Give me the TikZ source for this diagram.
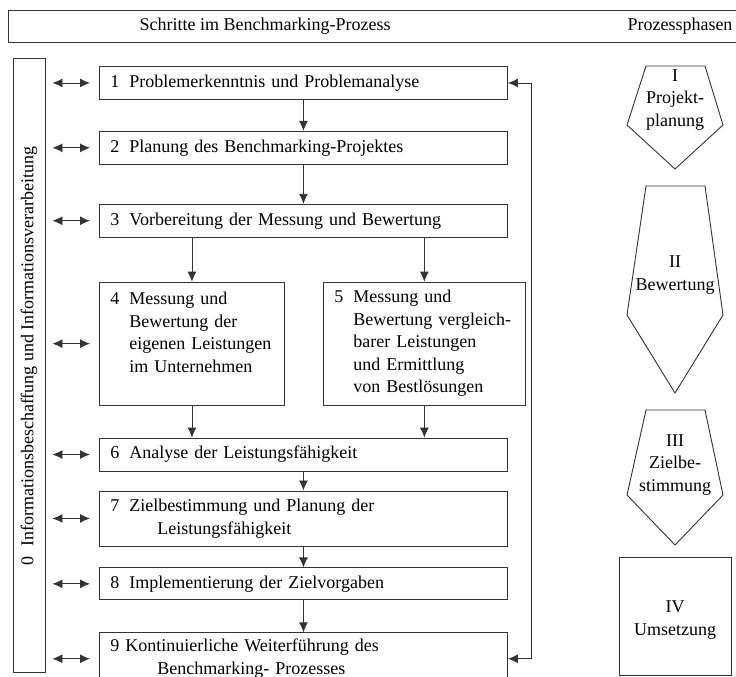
\documentclass[tikz,border=0pt]{standalone}
\usepackage{fontspec}
\setmainfont{Liberation Serif}
\usetikzlibrary{arrows.meta,positioning}
\newcommand{\stepfont}{\fontsize{18}{22.5}\selectfont}
\newcommand{\nr}[1]{#1\hspace{10pt}}

\begin{document}
\begin{tikzpicture}[x=1pt,y=-1pt,>={Latex[length=10pt,width=9pt]},
  stepbox/.style={draw=black!80,line width=0.9pt,minimum height=33pt,text width=386pt,
                  inner xsep=11pt,inner ysep=0pt,align=left,font=\stepfont},
  halfbox/.style={stepbox,minimum height=123pt},
  flow/.style={->,draw=black!80,line width=0.9pt},
  dbl/.style={<->,draw=black!80,line width=0.9pt,shorten <=7pt,shorten >=9pt},
  phase/.style={draw=black!80,line width=0.9pt},
  phasetext/.style={font=\stepfont,align=center}]
  \useasboundingbox (0,0) rectangle (736,677);
  % header
  \draw[phase] (8,10) rectangle (745,42);
  \node[font=\stepfont] (steps) at (265,26) {Schritte im Benchmarking-Prozess};
  \node[font=\stepfont] (phases) at (680,26) {Prozessphasen};
  % information column
  \node[draw=black!80,line width=0.9pt,minimum width=32pt,minimum height=614pt] (info) at (29,365) {};
  \node[rotate=90,font=\stepfont] (infotext) at (29,356)
    {\nr{0}Informationsbeschaffung und Informationsverarbeitung};
  % steps
  \node[stepbox,anchor=north west] (s1) at (99,66) {\nr{1}Problemerkenntnis und Problemanalyse};
  \node[stepbox,below=31pt of s1] (s2) {\nr{2}Planung des Benchmarking-Projektes};
  \node[stepbox,below=39pt of s2] (s3) {\nr{3}Vorbereitung der Messung und Bewertung};
  \node[halfbox,text width=163pt,below=44pt of s3.south west,anchor=north west] (s4)
    {\nr{4}Messung und\\\hspace{19pt}Bewertung der\\\hspace{19pt}eigenen Leistungen\\\hspace{19pt}im Unternehmen\\\mbox{}};
  \node[halfbox,text width=180pt,right=38pt of s4] (s5)
    {\nr{5}Messung und\\\hspace{19pt}Bewertung vergleich-\\\hspace{19pt}barer Leistungen\\\hspace{19pt}und Ermittlung\\\hspace{19pt}von Bestl\"osungen};
  \node[stepbox,below=32pt of s4.south west,anchor=north west] (s6) {\nr{6}Analyse der Leistungsf\"ahigkeit};
  \node[stepbox,minimum height=55pt,below=19pt of s6] (s7)
    {\nr{7}Zielbestimmung und Planung der\\\hspace{47pt}Leistungsf\"ahigkeit};
  \node[stepbox,minimum height=32pt,below=21pt of s7] (s8) {\nr{8}Implementierung der Zielvorgaben};
  \node[stepbox,minimum height=52pt,below=32pt of s8] (s9)
    {9 Kontinuierliche Weiterf\"uhrung des\\\hspace{47pt}Benchmarking- Prozesses};
  % flow
  \draw[flow] (s1) -- (s2);
  \draw[flow] (s2) -- (s3);
  \draw[flow] (s3.south -| s4.north) -- (s4.north);
  \draw[flow] (s3.south -| s5.north) -- (s5.north);
  \draw[flow] (s4.south) -- (s4.south |- s6.north);
  \draw[flow] (s5.south) -- (s5.south |- s6.north);
  \draw[flow] (s6) -- (s7);
  \draw[flow] (s7) -- (s8);
  \draw[flow] (s8) -- (s9);
  \draw[flow,<->] (s9.east) -- ++(24,0) |- (s1.east);
  % information exchange
  \draw[dbl] (info.east |- s1.west) -- (s1.west);
  \draw[dbl] (info.east |- s2.west) -- (s2.west);
  \draw[dbl] (info.east |- s3.west) -- (s3.west);
  \draw[dbl] (info.east |- s4.west) -- (s4.west);
  \draw[dbl] (info.east |- s6.west) -- (s6.west);
  \draw[dbl] (info.east |- s7.west) -- (s7.west);
  \draw[dbl] (info.east |- s8.west) -- (s8.west);
  \draw[dbl] (info.east |- s9.west) -- (s9.west);
  % phases
  \draw[phase] (646,66) -- (705,66) -- (723,125) -- (675,169) -- (627,125) -- cycle;
  \node[phasetext] (ph1) at (675,100) {I\\Projekt-\\planung};
  \draw[phase] (646,186) -- (705,186) -- (723,315) -- (675,393) -- (627,315) -- cycle;
  \node[phasetext] (ph2) at (675,275) {II\\Bewertung};
  \draw[phase] (646,410) -- (705,410) -- (723,495) -- (675,545) -- (627,495) -- cycle;
  \node[phasetext] (ph3) at (675,465) {III\\Zielbe-\\stimmung};
  \draw[phase] (619,557) rectangle (731,675);
  \node[phasetext] (ph4) at (675,620) {IV\\Umsetzung};
\end{tikzpicture}
\end{document}
